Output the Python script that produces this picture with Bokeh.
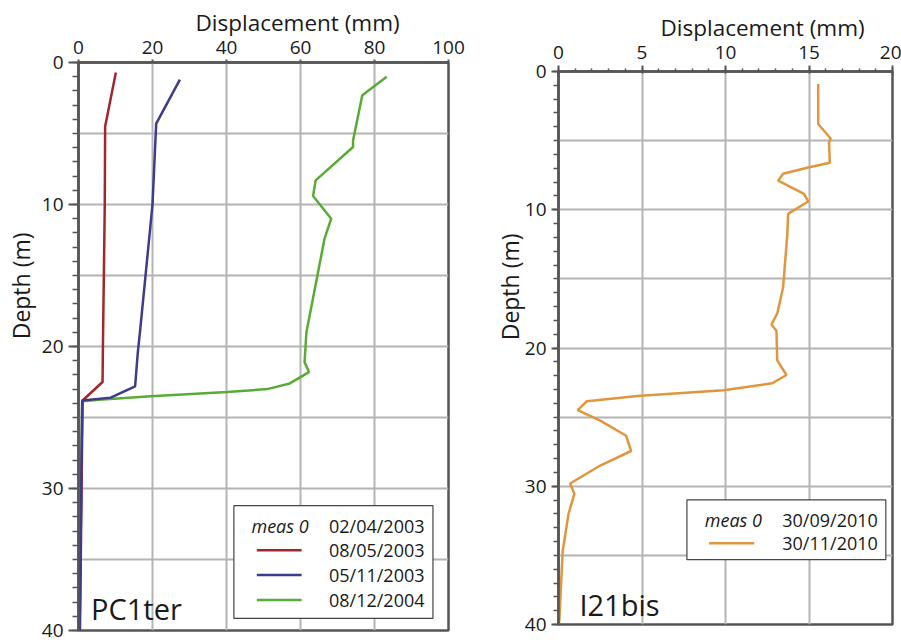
from bokeh.plotting import figure
from bokeh.layouts import row
from bokeh.models import Range1d, FixedTicker, Label, Title
from bokeh.embed import file_html
from bokeh.resources import INLINE

# ---------------- data: PC1ter ----------------
red_depth = [0.7, 4.5, 10.0, 20.0, 22.5, 23.8, 40.0]
red_disp = [10.1, 7.2, 7.1, 6.6, 6.5, 1.1, 0.4]

blue_depth = [1.2, 4.3, 10.0, 18.5, 20.5, 22.8, 23.6, 23.8, 40.0]
blue_disp = [27.4, 21.0, 20.0, 16.8, 16.0, 15.3, 8.7, 1.0, 0.3]

green_depth = [1.0, 2.3, 5.5, 5.95, 8.3, 9.4, 11.0, 12.4, 19.0, 21.1, 21.8,
               22.6, 23.0, 23.2, 23.5, 23.75, 23.85, 40.0]
green_disp = [83.3, 76.7, 74.2, 74.2, 64.1, 63.4, 68.3, 66.5, 61.6, 61.1, 62.3,
              57.1, 51.0, 40.2, 19.5, 5.6, 1.0, 0.3]

left_x_ticks = [0, 20, 40, 60, 80, 100]
left_y_ticks = [0, 10, 20, 30, 40]
left_dates = ["02/04/2003", "08/05/2003", "05/11/2003", "08/12/2004"]

# ---------------- data: I21bis ----------------
orange_depth = [0.9, 3.8, 4.85, 5.15, 6.6, 6.95, 7.4, 7.9, 8.85, 9.4, 10.3, 11.8,
                15.6, 17.5, 18.3, 18.75, 20.9, 21.95, 22.55, 23.05, 23.45, 23.85,
                24.5, 25.25, 26.35, 27.45, 28.5, 29.8, 30.55, 32.0, 34.7, 39.7, 40.0]
orange_disp = [15.55, 15.55, 16.3, 16.2, 16.25, 14.95, 13.45, 13.15, 14.7, 14.95, 13.75, 13.7,
               13.45, 13.1, 12.75, 13.05, 13.1, 13.65, 12.8, 9.9, 4.9, 1.7,
               1.15, 2.5, 4.05, 4.35, 2.5, 0.7, 0.95, 0.6, 0.25, 0.05, 0.0]

right_x_ticks = [0, 5, 10, 15, 20]
right_y_ticks = [0, 10, 20, 30, 40]
right_dates = ["30/09/2010", "30/11/2010"]

FONT = "Open Sans"
AXIS_COL = "#555555"
GRID_COL = "#b4b4b4"
TXT = "#1a1a1a"

RED = "#a3262a"
BLUE = "#3d3b8e"
GREEN = "#5aab36"
ORANGE = "#e0963c"


def base_fig(width, xmax, left, right, top, bottom):
    p = figure(width=width, height=644, x_range=Range1d(0, xmax), y_range=Range1d(40, 0),
               x_axis_location="above", output_backend="svg", toolbar_location=None,
               min_border_left=left, min_border_right=right,
               min_border_top=top, min_border_bottom=bottom,
               background_fill_color="white", border_fill_color="white",
               outline_line_color=AXIS_COL, outline_line_width=2.5)
    p.frame_align = False
    for ax in (p.xaxis[0], p.yaxis[0]):
        ax.axis_line_color = AXIS_COL
        ax.axis_line_width = 2.5
        ax.major_tick_line_color = AXIS_COL
        ax.major_tick_line_width = 2
        ax.minor_tick_line_color = AXIS_COL
        ax.minor_tick_line_width = 1.5
        ax.major_label_text_font = FONT
        ax.major_label_text_font_size = "19px"
        ax.major_label_text_color = TXT
    p.xgrid.grid_line_color = GRID_COL
    p.ygrid.grid_line_color = GRID_COL
    p.xgrid.grid_line_width = 2
    p.ygrid.grid_line_width = 2
    p.ygrid.ticker = FixedTicker(ticks=[5, 10, 15, 20, 25, 30, 35])
    return p


def add_text(p, x, y, text, size, align="left", baseline="middle", style="normal"):
    p.add_layout(Label(x=x, y=y, text=text, text_font=FONT, text_font_size=size,
                       text_align=align, text_baseline=baseline,
                       text_color=TXT, text_font_style=style))


def add_title(p, text, side, offset, standoff, size):
    p.add_layout(Title(text=text, align=("left" if side == "above" else "right"),
                       offset=offset, standoff=standoff, vertical_align="bottom",
                       text_font=FONT, text_font_size=size, text_font_style="normal",
                       text_color=TXT), side)


# ================= left panel =================
p1 = base_fig(480, 100, 78, 32, 62, 14)
p1.xaxis.ticker = FixedTicker(ticks=left_x_ticks, minor_ticks=[])
p1.yaxis.ticker = FixedTicker(ticks=left_y_ticks, minor_ticks=list(range(0, 41)))
p1.xgrid.ticker = FixedTicker(ticks=[20, 40, 60, 80])
p1.xaxis.major_tick_out = 3
p1.xaxis.major_tick_in = 0
p1.xaxis.major_label_standoff = 6
p1.yaxis.major_tick_out = 10
p1.yaxis.major_tick_in = 0
p1.yaxis.minor_tick_out = 6
p1.yaxis.minor_tick_in = 0
p1.yaxis.major_label_standoff = 5

p1.line(green_disp, green_depth, line_color=GREEN, line_width=2.5)
p1.line(red_disp, red_depth, line_color=RED, line_width=2.5)
p1.line(blue_disp, blue_depth, line_color=BLUE, line_width=2.5)

# legend box
p1.quad(left=[42.0], right=[95.8], top=[31.2], bottom=[39.15], fill_color="white",
        line_color="#444444", line_width=1.2)
leg_rows1 = [32.62, 34.34, 36.1, 37.86]
p1.segment(x0=[48.2] * 3, x1=[60.3] * 3, y0=leg_rows1[1:], y1=leg_rows1[1:],
           line_color=[RED, BLUE, GREEN], line_width=2.5)
add_text(p1, 62.2, leg_rows1[0], "meas 0", "18px", align="right", style="italic")
for d, yy in zip(left_dates, leg_rows1):
    add_text(p1, 67.7, yy, d, "18px")

add_title(p1, "Displacement (mm)", "above", 117, 0, "22.5px")
add_title(p1, "Depth (m)", "left", 170, 4, "23px")
add_text(p1, 3.4, 38.45, "PC1ter", "29px", baseline="middle")

# ================= right panel =================
p2 = base_fig(421, 20, 78, 9, 71, 20)
p2.xaxis.ticker = FixedTicker(ticks=right_x_ticks, minor_ticks=list(range(0, 21)))
p2.yaxis.ticker = FixedTicker(ticks=right_y_ticks, minor_ticks=list(range(0, 41)))
p2.xgrid.ticker = FixedTicker(ticks=[5, 10, 15])
p2.xaxis.major_tick_out = 6
p2.xaxis.major_tick_in = 2
p2.xaxis.minor_tick_out = 3
p2.xaxis.minor_tick_in = 1
p2.xaxis.major_label_standoff = 7
p2.yaxis.major_tick_out = 7
p2.yaxis.major_tick_in = 0
p2.yaxis.minor_tick_out = 5
p2.yaxis.minor_tick_in = 0
p2.yaxis.major_label_standoff = 5

p2.line(orange_disp, orange_depth, line_color=ORANGE, line_width=2.5)

p2.quad(left=[7.69], right=[19.6], top=[30.99], bottom=[35.31], fill_color="white",
        line_color="#444444", line_width=1.2)
leg_rows2 = [32.44, 34.13]
p2.segment(x0=[9.02], x1=[11.72], y0=[leg_rows2[1]], y1=[leg_rows2[1]],
           line_color=ORANGE, line_width=2.5)
add_text(p2, 12.18, leg_rows2[0], "meas 0", "18px", align="right", style="italic")
for d, yy in zip(right_dates, leg_rows2):
    add_text(p2, 13.4, yy, d, "18px")

add_title(p2, "Displacement (mm)", "above", 102, 0, "22.5px")
add_title(p2, "Depth (m)", "left", 162, -8, "23px")
add_text(p2, 1.25, 38.58, "I21bis", "29px", baseline="middle")

layout = row(p1, p2)
open("out.html", "w").write(file_html(layout, INLINE))
